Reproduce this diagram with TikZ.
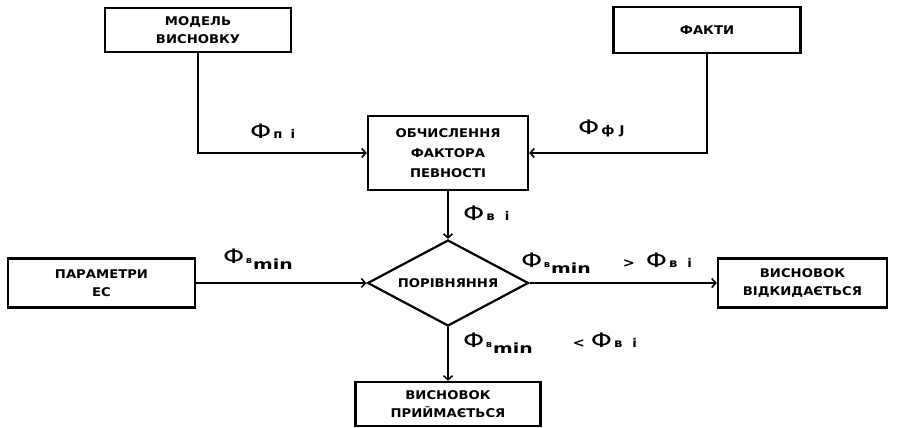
\documentclass[tikz,border=0pt]{standalone}
\usepackage{fontspec}
\setmainfont{DejaVu Sans}
\newfontfamily\boxfont{DejaVu Sans}[FakeStretch=1.1]
\newfontfamily\phifont{DejaVu Sans}[FakeStretch=1.35]
\usetikzlibrary{shapes.geometric,arrows.meta}

% Greek capital phi used for the certainty factors
\newcommand{\fsym}{{\phifont\fontsize{20}{20}\selectfont Φ}}
% phi with a small bold index
\newcommand{\fsub}[1]{\fsym\hspace{2pt}{\boxfont\bfseries\fontsize{12}{12}\selectfont #1}}
% phi with index "в" and a lowered "min"
\newcommand{\fmin}{\fsym\hspace{1.5pt}{\boxfont\bfseries\fontsize{9}{9}\selectfont в}\hspace{1pt}\raisebox{-6pt}{\phifont\bfseries\fontsize{14}{14}\selectfont min}}

\begin{document}
\begin{tikzpicture}[x=1pt,y=-1pt,
  blk/.style={draw, line width=2.4pt, align=center, inner sep=0pt,
    font=\boxfont\bfseries\fontsize{12}{18}\selectfont},
  cmpbox/.style={diamond, draw, line width=2.2pt, inner sep=0pt, aspect=1.9,
    minimum width=161pt, minimum height=86pt,
    font=\boxfont\bfseries\fontsize{12}{18}\selectfont},
  arr/.style={line width=1.8pt, -{Straight Barb[length=4pt,width=9pt,line width=1.6pt]}},
  lbl/.style={anchor=base west, inner sep=0pt}]
\useasboundingbox (0,0) rectangle (908,428);

% blocks
\node[blk, minimum width=186pt, minimum height=44pt] (mv) at (198,30) {МОДЕЛЬ\\ВИСНОВКУ};
\node[blk, minimum width=187pt, minimum height=46pt] (fk) at (707,30) {ФАКТИ};
\node[blk, minimum width=160pt, minimum height=74pt,
  font=\boxfont\bfseries\fontsize{12}{20}\selectfont] (ob) at (448,153) {ОБЧИСЛЕННЯ\\ФАКТОРА\\ПЕВНОСТІ};
\node[cmpbox] (cmp) at (448,283) {ПОРІВНЯННЯ};
\node[blk, minimum width=187pt, minimum height=49pt] (par) at (101.5,283) {ПАРАМЕТРИ\\ЕС};
\node[blk, minimum width=169pt, minimum height=49pt] (otk) at (802.5,283) {ВИСНОВОК\\ВІДКИДАЄТЬСЯ};
\node[blk, minimum width=185pt, minimum height=44pt] (pri) at (448,404) {ВИСНОВОК\\ПРИЙМАЄТЬСЯ};

% connectors
\draw[arr] (mv.south) |- (ob.west);
\draw[arr] (fk.south) |- (ob.east);
\draw[arr] (ob.south) -- (cmp.north);
\draw[arr] (par.east) -- (cmp.west);
\draw[arr] (cmp.east) -- (otk.west);
\draw[arr] (cmp.south) -- (pri.north);

% labels
\node[lbl] (lpi) at (250,138) {\fsub{п\hspace{8pt}і}};
\node[lbl] (lfj) at (578,134) {\fsub{ф\hspace{5pt}J}};
\node[lbl] (lbi) at (463,220) {\fsub{в\hspace{10pt}і}};
\node[lbl] (lmin) at (223,263) {\fmin};
\node[lbl] (lgt) at (521,267) {\fmin\hspace{32pt}{\boxfont\bfseries\fontsize{13}{13}\selectfont >}\hspace{11pt}\fsub{в\hspace{10pt}і}};
\node[lbl] (llt) at (463,347) {\fmin\hspace{40pt}{\boxfont\bfseries\fontsize{13}{13}\selectfont <}\hspace{6pt}\fsub{в\hspace{10pt}і}};
\end{tikzpicture}
\end{document}
